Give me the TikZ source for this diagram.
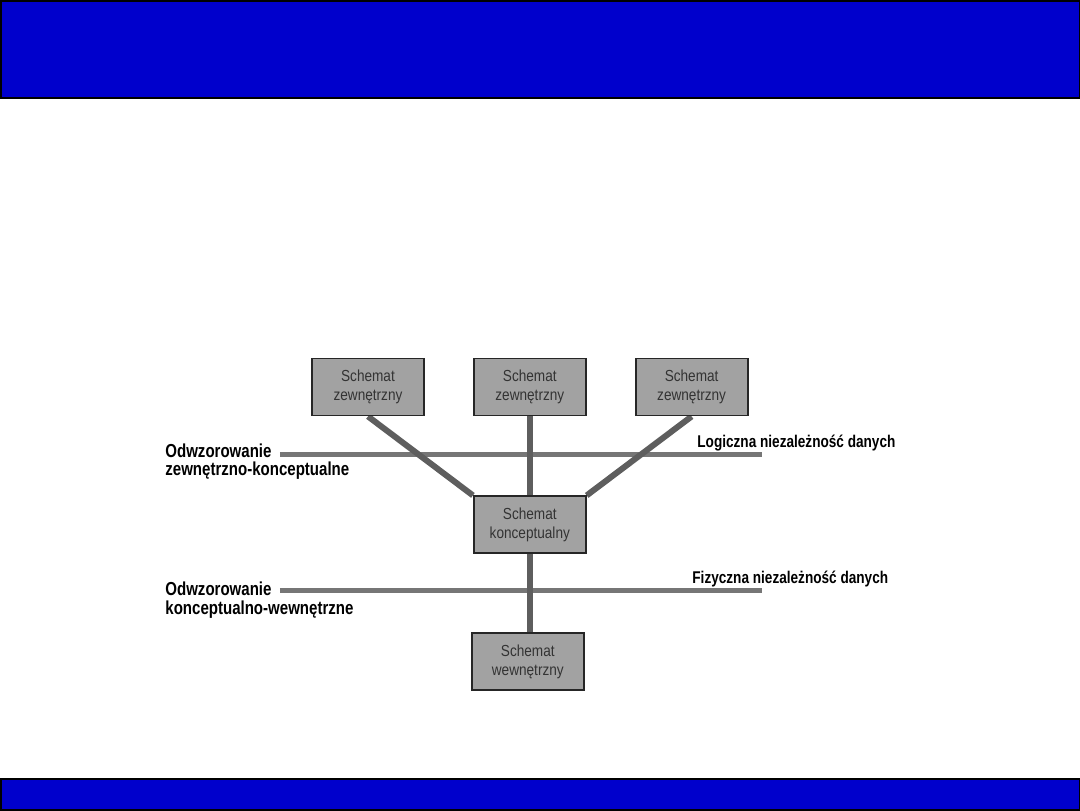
\documentclass[tikz,border=0pt]{standalone}
\usepackage{fontspec}
\setmainfont{Liberation Sans}
\newfontfamily\boxfont[FakeStretch=0.85]{Liberation Sans}
\newfontfamily\labfont[FakeStretch=0.8]{Liberation Sans}
\usetikzlibrary{positioning,backgrounds}
\definecolor{Bar}{HTML}{0000CC}
\definecolor{Box}{HTML}{A2A2A2}
\definecolor{Wire}{HTML}{5E5E5E}

\begin{document}
\begin{tikzpicture}[x=0.5pt,y=-0.5pt,
    schema/.style={draw=black!85, line width=0.9pt, fill=Box, minimum width=56pt, minimum height=28.5pt,
      inner sep=0pt, align=center, text=black!80, font=\boxfont\fontsize{8}{9.5}\selectfont},
    wire/.style={draw=Wire, line width=3pt},
    level/.style={draw=Wire!85, line width=2.5pt},
    lab/.style={inner sep=0pt, font=\labfont\bfseries\fontsize{8.5}{10}\selectfont},
    leftlab/.style={lab, font=\labfont\bfseries\fontsize{9.4}{10}\selectfont}]
    \useasboundingbox (0,0) rectangle (1080,810);
    \filldraw[fill=Bar, draw=black, line width=1pt] (0.5,0.5) rectangle (1079.5,98);
    \filldraw[fill=Bar, draw=black, line width=1pt] (0.5,779) rectangle (1079.5,809.5);

    % schematy
    \node[schema] (ext1) at (368,387) {Schemat\\zewnętrzny};
    \node[schema, right=24pt of ext1] (ext2) {Schemat\\zewnętrzny};
    \node[schema, right=24pt of ext2] (ext3) {Schemat\\zewnętrzny};
    \node[schema, below=39.5pt of ext2] (conc) {Schemat\\konceptualny};
    \node[schema, below=39pt of conc, xshift=-1pt] (int) {Schemat\\wewnętrzny};

    % opisy
    \node[leftlab, anchor=base west] (odw1) at (165,457) {Odwzorowanie};
    \node[leftlab, anchor=base west] (odw1b) at (165,475) {zewnętrzno-konceptualne};
    \node[lab, anchor=base west] (logic) at (697,447) {Logiczna niezależność danych};
    \node[leftlab, anchor=base west] (odw2) at (165,595) {Odwzorowanie};
    \node[leftlab, anchor=base west] (odw2b) at (165,614) {konceptualno-wewnętrzne};
    \node[lab, anchor=base west] (phys) at (692,583) {Fizyczna niezależność danych};
    \coordinate (end1) at (762,454);
    \coordinate (end2) at (762,590);

    \begin{scope}[on background layer]
      \draw[level] ([xshift=4pt]odw1.east |- end1) -- (end1);
      \draw[level] ([xshift=4pt]odw2.east |- end2) -- (end2);
      \draw[wire] (ext1.south) -- (conc.north west);
      \draw[wire] (ext2.south) -- (conc.north);
      \draw[wire] (ext3.south) -- (conc.north east);
      \draw[wire] (conc.south) -- (conc.south |- int.north);
    \end{scope}
\end{tikzpicture}
\end{document}
